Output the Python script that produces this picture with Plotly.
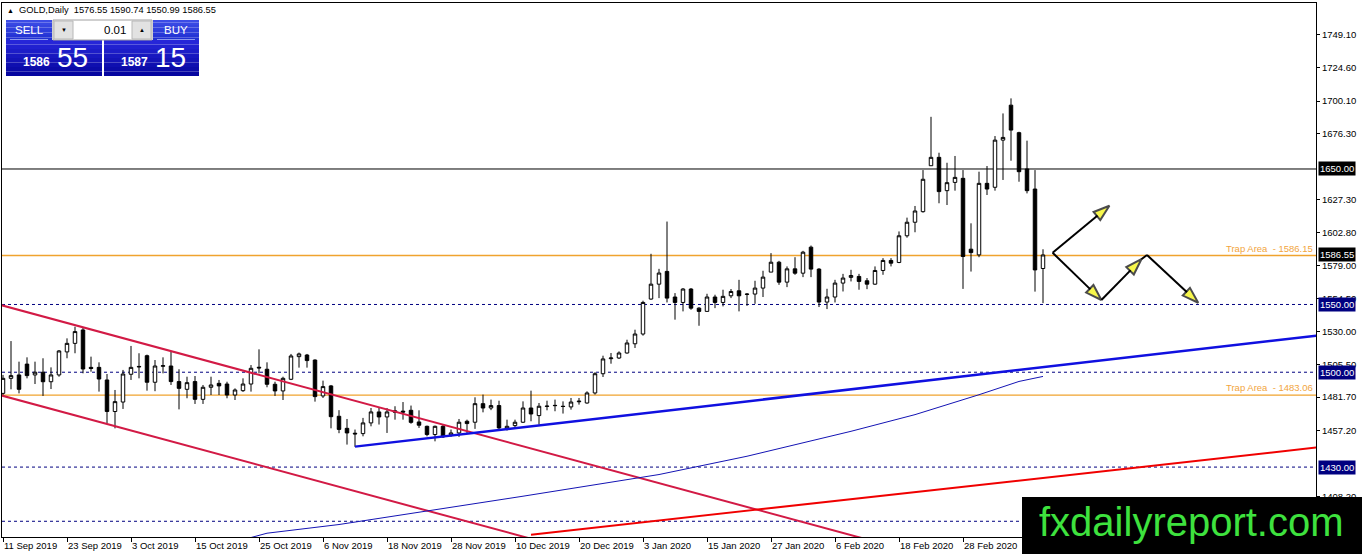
import plotly.graph_objects as go

# GOLD daily bars, 11 Sep 2019 .. 13 Mar 2020 (bar index 0..130)
opens = [1484.4, 1495.5, 1498.0, 1506.0, 1498.0, 1500.0, 1493.0, 1498.0, 1515.0, 1521.3,
         1531.2, 1503.6, 1503.6, 1494.3, 1471.0, 1478.0, 1498.5, 1504.3, 1512.2, 1492.6,
         1504.4, 1504.6, 1493.1, 1487.4, 1493.1, 1480.0, 1488.9, 1491.8, 1491.3, 1483.2,
         1486.4, 1491.3, 1503.7, 1502.2, 1491.1, 1486.2, 1494.8, 1511.5, 1512.7, 1509.0,
         1482.5, 1489.9, 1467.5, 1458.6, 1455.0, 1454.7, 1462.6, 1470.7, 1467.0, 1471.5,
         1471.3, 1471.9, 1463.3, 1460.1, 1454.0, 1460.1, 1453.7, 1455.2, 1463.8, 1463.1,
         1476.8, 1473.6, 1475.4, 1458.2, 1460.6, 1463.1, 1473.6, 1468.0, 1474.7, 1475.3,
         1474.9, 1474.4, 1478.2, 1477.3, 1484.7, 1498.9, 1510.0, 1510.5, 1514.2, 1521.0,
         1528.2, 1554.0, 1565.0, 1574.4, 1555.5, 1551.5, 1561.4, 1547.3, 1544.9, 1555.5,
         1551.5, 1556.4, 1560.1, 1557.7, 1557.7, 1562.1, 1573.9, 1581.2, 1566.5, 1576.3,
         1573.1, 1592.3, 1576.1, 1551.8, 1555.5, 1565.8, 1570.0, 1570.7, 1567.5, 1565.0,
         1575.1, 1582.5, 1581.0, 1600.7, 1610.7, 1618.5, 1652.4, 1658.6, 1634.0, 1640.1,
         1643.1, 1590.8, 1586.6, 1639.4, 1636.5, 1671.3, 1697.1, 1676.8, 1650.0, 1635.2,
         1576.55]
highs = [1498.0, 1523.0, 1507.8, 1511.0, 1507.8, 1510.3, 1503.6, 1516.4, 1525.0, 1533.6,
         1533.1, 1511.5, 1507.3, 1498.7, 1486.9, 1501.7, 1519.4, 1514.0, 1513.0, 1509.0,
         1511.0, 1515.2, 1502.2, 1496.7, 1497.2, 1490.6, 1496.7, 1494.3, 1493.0, 1488.1,
         1495.5, 1505.3, 1516.9, 1507.3, 1493.0, 1496.7, 1513.5, 1514.5, 1513.5, 1509.5,
         1493.8, 1490.6, 1472.0, 1465.5, 1457.7, 1466.3, 1473.6, 1473.6, 1473.6, 1474.9,
         1478.0, 1475.4, 1471.9, 1460.6, 1460.6, 1461.3, 1457.7, 1465.5, 1465.0, 1481.5,
         1483.5, 1479.8, 1479.0, 1465.0, 1465.0, 1478.5, 1486.4, 1477.3, 1479.0, 1479.8,
         1478.5, 1481.0, 1481.0, 1485.9, 1500.0, 1512.2, 1514.2, 1515.4, 1524.0, 1531.4,
         1552.8, 1587.4, 1576.3, 1611.2, 1558.4, 1562.1, 1562.1, 1548.0, 1557.9, 1557.2,
         1560.9, 1561.4, 1568.2, 1558.4, 1567.5, 1574.9, 1587.9, 1582.2, 1578.1, 1584.9,
         1589.6, 1593.5, 1576.8, 1561.6, 1568.2, 1572.6, 1575.6, 1572.6, 1569.5, 1578.1,
         1584.2, 1584.2, 1603.9, 1614.1, 1622.7, 1649.2, 1688.5, 1662.0, 1654.6, 1659.6,
         1649.2, 1609.9, 1648.0, 1652.2, 1674.3, 1691.0, 1702.1, 1677.5, 1670.9, 1649.2,
         1590.74]
lows = [1483.0, 1487.4, 1484.4, 1495.5, 1491.3, 1482.5, 1487.6, 1496.7, 1510.3, 1514.0,
        1499.2, 1500.4, 1485.7, 1462.3, 1458.6, 1472.9, 1494.3, 1495.5, 1486.4, 1486.0,
        1499.2, 1490.6, 1472.6, 1480.8, 1476.6, 1476.6, 1483.2, 1483.2, 1480.8, 1479.5,
        1485.5, 1485.7, 1499.2, 1488.9, 1482.5, 1479.5, 1494.2, 1503.4, 1503.4, 1478.3,
        1481.0, 1458.6, 1455.0, 1446.6, 1444.9, 1452.7, 1460.1, 1461.4, 1455.2, 1465.0,
        1465.0, 1462.0, 1458.9, 1452.7, 1449.0, 1451.5, 1452.3, 1452.3, 1455.2, 1458.2,
        1470.4, 1472.0, 1457.7, 1457.0, 1458.9, 1462.6, 1463.8, 1461.4, 1471.9, 1471.2,
        1469.5, 1472.4, 1476.1, 1476.8, 1483.5, 1496.5, 1506.3, 1509.8, 1513.7, 1517.9,
        1527.0, 1553.5, 1554.7, 1551.5, 1538.8, 1544.9, 1546.1, 1534.3, 1544.9, 1547.3,
        1548.6, 1554.7, 1544.9, 1549.0, 1550.5, 1555.5, 1573.9, 1564.5, 1562.8, 1571.9,
        1570.2, 1570.2, 1548.1, 1546.6, 1551.5, 1559.6, 1567.0, 1560.9, 1561.3, 1564.5,
        1571.9, 1578.1, 1580.5, 1599.3, 1603.3, 1617.8, 1652.4, 1624.7, 1623.4, 1634.0,
        1561.5, 1574.3, 1584.9, 1630.8, 1634.0, 1641.9, 1656.1, 1640.6, 1632.0, 1559.5,
        1550.99]
closes = [1495.5, 1497.5, 1487.4, 1497.5, 1500.0, 1493.0, 1498.0, 1515.7, 1521.3, 1530.0,
          1502.4, 1502.8, 1495.0, 1471.0, 1478.3, 1498.7, 1503.6, 1504.0, 1492.6, 1504.6,
          1504.8, 1493.1, 1488.1, 1492.3, 1480.0, 1488.9, 1490.6, 1489.9, 1483.2, 1486.9,
          1491.3, 1502.9, 1503.2, 1491.1, 1486.2, 1495.5, 1512.0, 1513.5, 1508.6, 1482.0,
          1489.4, 1467.2, 1457.8, 1455.2, 1454.5, 1462.6, 1470.7, 1467.0, 1470.7, 1470.5,
          1470.6, 1463.0, 1460.9, 1454.0, 1460.1, 1452.3, 1455.2, 1463.1, 1462.1, 1476.8,
          1473.6, 1475.4, 1458.9, 1460.1, 1463.1, 1473.6, 1469.2, 1474.9, 1475.0, 1475.5,
          1474.7, 1478.0, 1478.6, 1484.7, 1498.9, 1509.8, 1510.5, 1514.2, 1521.6, 1528.2,
          1551.5, 1565.0, 1573.2, 1554.7, 1551.5, 1561.4, 1547.3, 1544.9, 1555.5, 1551.5,
          1556.0, 1559.6, 1556.4, 1557.5, 1562.1, 1570.2, 1581.2, 1566.5, 1576.3, 1573.1,
          1588.6, 1576.1, 1551.8, 1555.5, 1565.8, 1569.5, 1571.4, 1567.0, 1565.0, 1575.1,
          1582.5, 1580.5, 1600.7, 1610.7, 1619.0, 1642.4, 1658.6, 1633.3, 1639.9, 1643.8,
          1585.4, 1588.3, 1639.4, 1635.2, 1671.3, 1673.3, 1678.7, 1648.0, 1634.0, 1575.5,
          1586.55]
bars = list(range(len(closes)))

date_ticks = list(range(0, 121, 8))
date_labels = ["11 Sep 2019", "23 Sep 2019", "3 Oct 2019", "15 Oct 2019", "25 Oct 2019",
               "6 Nov 2019", "18 Nov 2019", "28 Nov 2019", "10 Dec 2019", "20 Dec 2019",
               "3 Jan 2020", "15 Jan 2020", "27 Jan 2020", "6 Feb 2020", "18 Feb 2020",
               "28 Feb 2020"]
price_ticks = [1749.10, 1724.60, 1700.10, 1676.30, 1627.30, 1602.80, 1579.00, 1554.50,
               1530.00, 1505.50, 1481.70, 1457.20, 1408.20]

# moving average (bar index, price)
ma_bars = [31, 33, 42, 53, 65, 82, 93, 106, 114, 122, 127, 130]
ma_vals = [1378.0, 1381.2, 1387.6, 1397.4, 1408.5, 1424.5, 1438.0, 1456.4, 1468.7, 1483.4,
           1493.2, 1496.9]

# trend lines (bar index pairs, price pairs)
chan_top_bars, chan_top_vals = [-0.4, 108], [1549.8, 1376.6]
chan_bot_bars, chan_bot_vals = [-0.4, 66], [1483.2, 1377.1]
red_up_bars, red_up_vals = [66, 164.3], [1380.1, 1444.5]
blue_up_bars, blue_up_vals = [44, 164.3], [1445.1, 1527.1]

dashed_levels = [1550.0, 1500.0, 1430.0, 1390.0]
boxed_levels = [1550.0, 1500.0, 1430.0]
resist_level = 1650.0
trap_levels = [1586.15, 1483.06]
bid_price = 1586.55

# scenario arrows: (start bar, start price, tip bar, tip price)
arrows = [(131.2, 1588.2, 138.3, 1622.9),
          (131.2, 1588.2, 137.3, 1553.3),
          (137.3, 1553.3, 142.3, 1583.4),
          (143.0, 1586.5, 149.4, 1551.3)]
arrow_link_bars, arrow_link_vals = [142.3, 143.0], [1583.4, 1586.5]

FONT = "Liberation Sans, Arial, sans-serif"

# plot area in page pixels, for placing the overlay widgets
X0, X1, Y0, Y1 = 2, 1316, 3, 537


def px(x):
    return (x - X0) / (X1 - X0)


def py(y):
    return (Y1 - y) / (Y1 - Y0)


def mix(c0, c1, t):
    a = [int(c0[i:i + 2], 16) for i in (1, 3, 5)]
    b = [int(c1[i:i + 2], 16) for i in (1, 3, 5)]
    return "#" + "".join("%02x" % round(a[k] + (b[k] - a[k]) * t) for k in range(3))


def grad_box(shapes, x0, x1, y0, y1, top, bottom, n=8):
    h = (y1 - y0) / n
    for i in range(n):
        shapes.append(dict(type="rect", xref="paper", yref="paper", layer="above",
                           x0=px(x0), x1=px(x1), y0=py(y0 + (i + 1) * h), y1=py(y0 + i * h),
                           fillcolor=mix(top, bottom, i / (n - 1)), line=dict(width=0)))


fig = go.Figure()

fig.add_trace(go.Candlestick(
    x=bars, open=opens, high=highs, low=lows, close=closes,
    increasing=dict(line=dict(color="black", width=1), fillcolor="white"),
    decreasing=dict(line=dict(color="black", width=1), fillcolor="black"),
    whiskerwidth=0, hoverinfo="skip", showlegend=False))

for xs, ys, col, w in [(chan_top_bars, chan_top_vals, "#d21a45", 2),
                       (chan_bot_bars, chan_bot_vals, "#d21a45", 2),
                       (red_up_bars, red_up_vals, "#f00000", 2),
                       (blue_up_bars, blue_up_vals, "#1010e0", 2.5),
                       (ma_bars, ma_vals, "#1414b4", 1)]:
    fig.add_trace(go.Scatter(x=xs, y=ys, mode="lines", line=dict(color=col, width=w),
                             hoverinfo="skip", showlegend=False))

for x0, y0, x1, y1 in arrows:
    fig.add_trace(go.Scatter(
        x=[x0, x1], y=[y0, y1], mode="lines+markers",
        line=dict(color="black", width=2),
        marker=dict(symbol="arrow", size=[0, 17], angleref="previous", color="#f4f400",
                    line=dict(color="black", width=2)),
        hoverinfo="skip", showlegend=False))
fig.add_trace(go.Scatter(x=arrow_link_bars, y=arrow_link_vals, mode="lines",
                         line=dict(color="black", width=2), hoverinfo="skip", showlegend=False))

shapes = []
for lv in dashed_levels:
    shapes.append(dict(type="line", xref="paper", yref="y", x0=0, x1=1, y0=lv, y1=lv,
                       layer="below", line=dict(color="#000080", width=1, dash="3px,3px")))
for lv in trap_levels:
    shapes.append(dict(type="line", xref="paper", yref="y", x0=0, x1=1, y0=lv, y1=lv,
                       layer="below", line=dict(color="#f0a32e", width=1.3)))
shapes.append(dict(type="line", xref="paper", yref="y", x0=0, x1=1, y0=resist_level,
                   y1=resist_level, layer="below", line=dict(color="black", width=1)))

# one-click trading panel
grad_box(shapes, 6, 52, 20, 40, "#3c4ce6", "#2030d2")
grad_box(shapes, 153, 199, 20, 40, "#3c4ce6", "#2030d2")
grad_box(shapes, 6, 102, 40, 76, "#2626d8", "#0606a0")
grad_box(shapes, 104, 199, 40, 76, "#2626d8", "#0606a0")
for a, b in [(10, 48), (157, 195)]:
    shapes.append(dict(type="line", xref="paper", yref="paper", layer="above",
                       x0=px(a), x1=px(b), y0=py(39.5), y1=py(39.5),
                       line=dict(color="#8c98f0", width=1)))
shapes.append(dict(type="rect", xref="paper", yref="paper", layer="above",
                   x0=px(53), x1=px(152), y0=py(40), y1=py(20),
                   fillcolor="white", line=dict(color="#a0a0a0", width=1)))
for a, b in [(54, 73), (132, 151)]:
    shapes.append(dict(type="rect", xref="paper", yref="paper", layer="above",
                       x0=px(a), x1=px(b), y0=py(39), y1=py(21),
                       fillcolor="#e2e2e2", line=dict(color="#b8b8b8", width=1)))

# watermark
shapes.append(dict(type="rect", xref="paper", yref="paper", layer="above",
                   x0=px(1022), x1=px(1370), y0=py(560), y1=py(497),
                   fillcolor="black", line=dict(width=0)))

ann = []


def note(text, x, y, size, color="white", xanchor="center", **kw):
    ann.append(dict(text=text, xref="paper", yref="paper", x=px(x), y=py(y),
                    xanchor=xanchor, yanchor="middle", showarrow=False,
                    font=dict(family=FONT, size=size, color=color), **kw))


note("▲", 10, 10, 7, "black")
note("GOLD,Daily\u00a0\u00a01576.55 1590.74 1550.99 1586.55", 17, 10, 9.3, "black", "left")
note("SELL", 29, 30, 11.5)
note("BUY", 176, 30, 11.5)
note("0.01", 128, 30, 11.5, "black", "right")
note("▼", 63.5, 30, 6, "black")
note("▲", 141.5, 30, 6, "black")
note("<b>1586</b>", 36, 62, 12)
note("55", 72, 57, 28)
note("<b>1587</b>", 134, 62, 12)
note("15", 170, 57, 28)

for lv in trap_levels:
    ann.append(dict(text="Trap Area\u00a0\u00a0- %.2f" % lv, xref="paper", yref="y",
                    x=1, y=lv, xanchor="right", yanchor="bottom", xshift=-1, showarrow=False,
                    font=dict(family=FONT, size=9.5, color="#f2a540")))

for lv, bg in [(resist_level, "black"), (bid_price, "black")] + [(b, "#000080") for b in boxed_levels]:
    ann.append(dict(text="%.2f" % lv, xref="paper", yref="y", x=1, y=lv, xanchor="left",
                    yanchor="middle", xshift=2, showarrow=False, bgcolor=bg, borderpad=1,
                    font=dict(family=FONT, size=9.5, color="white")))

note("fxdailyreport.com", 1191, 522, 40, "#3ee23e")

fig.update_layout(
    width=1362, height=554,
    margin=dict(l=X0, r=1362 - X1, t=Y0, b=554 - Y1),
    paper_bgcolor="white", plot_bgcolor="white",
    boxgap=0.38,
    showlegend=False,
    shapes=shapes, annotations=ann,
    font=dict(family=FONT, size=9.5, color="black"),
    xaxis=dict(range=[-0.125, 164.125], rangeslider=dict(visible=False),
               tickvals=date_ticks, ticktext=date_labels, ticks="outside", ticklen=4,
               tickcolor="black", ticklabelposition="outside right",
               showgrid=False, zeroline=False, showline=True, mirror=True,
               linecolor="black", linewidth=1, fixedrange=True,
               tickfont=dict(family=FONT, size=9.5, color="black")),
    yaxis=dict(range=[1378.4, 1772.5], side="right",
               tickvals=price_ticks, ticktext=["%.2f" % v for v in price_ticks],
               ticks="outside", ticklen=3, tickcolor="black",
               showgrid=False, zeroline=False, showline=True, mirror=True,
               linecolor="black", linewidth=1, fixedrange=True,
               tickfont=dict(family=FONT, size=9.5, color="black")),
)

# the page body has a default 8px margin; drop it so the figure fills the window
fig.write_html("out.html", config=dict(displayModeBar=False),
               post_script="document.body.style.margin='0';")
